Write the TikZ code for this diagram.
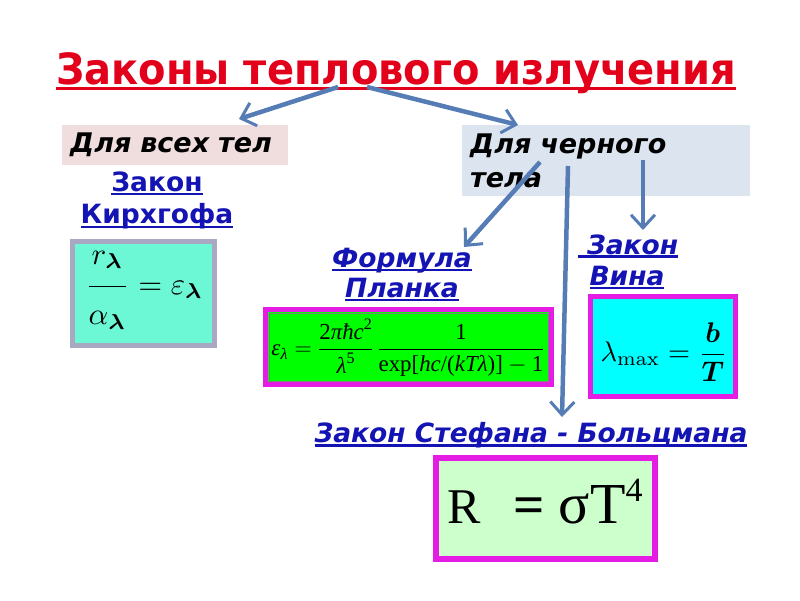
\documentclass[tikz,border=0pt]{standalone}
\usepackage{amsmath}
\usepackage[no-math]{fontspec}
\setmainfont{DejaVu Sans}
\newfontfamily\timesf{Liberation Serif}
\usetikzlibrary{arrows.meta,calc}
\definecolor{titlered}{RGB}{226,0,26}
\definecolor{lblue}{RGB}{20,20,180}
\definecolor{arrowc}{RGB}{86,124,182}
\definecolor{pinkbg}{RGB}{240,222,222}
\definecolor{bluebg}{RGB}{220,228,240}
\definecolor{aqua}{RGB}{108,248,212}
\definecolor{grayb}{RGB}{168,168,194}
\definecolor{mag}{RGB}{228,28,228}
\definecolor{lgreen}{RGB}{204,255,204}
\definecolor{brgreen}{RGB}{0,255,0}
\definecolor{brcyan}{RGB}{0,255,255}
\newcommand\myul[3]{\setbox0=\hbox{#3}\rlap{\rule[-#1]{\wd0}{#2}}\box0}
\newcommand\ti[1]{\text{\timesf\itshape #1}}
\newcommand\tr[1]{\text{\timesf #1}}
\tikzset{
  conn/.style={draw=arrowc, line width=4.5pt, -{Straight Barb[length=13pt,width=24pt,line width=3pt]}},
  blab/.style={anchor=base, inner sep=0pt, text=lblue, font=\fontsize{26.5}{30}\selectfont\bfseries},
  blabi/.style={blab, font=\fontsize{26.5}{30}\selectfont\bfseries\itshape},
  headbox/.style={anchor=north west, inner xsep=8pt, inner ysep=0pt, align=left,
    font=\fontsize{27}{34}\selectfont\bfseries\itshape},
  fbox/.style={anchor=north west, draw=mag, line width=5pt, inner sep=0pt},
}
\begin{document}
\begin{tikzpicture}[x=1pt,y=-1pt]
\useasboundingbox (0,0) rectangle (800,600);
% title
\node[anchor=base west, inner sep=0pt, text=titlered, font=\fontsize{43}{50}\selectfont\bfseries] (title) at (56,84)
  {\scalebox{0.93}[1]{\myul{6pt}{3.5pt}{Законы теплового излучения}}};
% header boxes
\node[headbox, fill=pinkbg, minimum width=226pt, minimum height=40pt, text width=210pt] (all) at (62,125) {Для всех тел};
\node[headbox, fill=bluebg, minimum width=288pt, minimum height=71pt, text width=272pt] (black) at (462,125) {Для черного\\тела};
% Kirchhoff
\node[blab] (kir1) at (157,191) {\myul{4pt}{2.2pt}{Закон}};
\node[blab] (kir2) at (157,223) {\myul{5pt}{2.2pt}{Кирхгофа}};
\node[anchor=north west, draw=grayb, fill=aqua, line width=5pt, minimum width=142pt, minimum height=104pt, inner sep=0pt] (kirbox) at (70,239) {};
\node[inner sep=0pt] (kirf) at (144,290)
  {\resizebox{118pt}{!}{$\dfrac{\raisebox{3pt}{$r_{\boldsymbol\lambda}$}}{\raisebox{-3pt}{$\alpha_{\boldsymbol\lambda}$}}=\varepsilon_{\boldsymbol\lambda}$}};
% Planck
\node[blabi] (pl1) at (402,267) {\myul{4pt}{2.2pt}{Формула}};
\node[blabi] (pl2) at (402,297) {\myul{4pt}{2.2pt}{Планка}};
\node[fbox, fill=brgreen, minimum width=286pt, minimum height=75pt] (plbox) at (263,307) {};
\draw[gray, line width=1pt] ($(plbox.north west)+(6,6)$) rectangle ($(plbox.south east)+(-6,-6)$);
\node[inner sep=0pt, font=\fontsize{24}{28}\selectfont] (plf) at (408,348)
  {\resizebox{273pt}{!}{$\ti{ε}_{\ti{λ}}=\dfrac{\tr{2}\ti{πħc}^{\tr{2}}}{\ti{λ}^{\tr{5}}}\,\dfrac{\tr{1}}{\tr{exp[}\ti{hc}\tr{/(}\ti{kTλ}\tr{)]}-\tr{1}}$}};
% Wien
\node[blabi] (w1) at (628,254) {\myul{3.5pt}{2.2pt}{\ Закон}};
\node[blabi] (w2) at (627,285) {\myul{4pt}{2.2pt}{Вина}};
\node[fbox, fill=brcyan, minimum width=145pt, minimum height=100pt] (wbox) at (588,294) {};
\node[inner sep=0pt] (wf) at (664,352)
  {\resizebox{127pt}{!}{$\lambda_{\mathrm{max}}=\dfrac{\boldsymbol{b}}{\boldsymbol{T}}$}};
% Stefan-Boltzmann
\node[blabi] (sb) at (531,442) {\myul{4.5pt}{2.2pt}{Закон Стефана - Больцмана}};
\node[fbox, line width=6pt, fill=lgreen, minimum width=219pt, minimum height=101pt] (sbbox) at (433,455) {};
\node[inner sep=0pt, anchor=base west, font=\fontsize{50}{56}\selectfont\timesf] (sbf) at (447,523)
  {R\hspace{33pt}{\fontsize{55}{56}\selectfont\bfseries=}\hspace{14pt}{\fontsize{58}{60}\selectfont σT}\raisebox{22pt}{\fontsize{34}{36}\selectfont 4}};
% connectors
\coordinate (t1) at (338,87);
\coordinate (t2) at (367,87);
\coordinate (allin) at (239,119);
\coordinate (blackin) at (518,125);
\coordinate (b1) at (540,162);
\coordinate (b2) at (568,166);
\coordinate (b3) at (643,160);
\coordinate (plin) at (464,247);
\coordinate (sbin) at (562,417);
\coordinate (win) at (643,230);
\draw[conn] (t1) -- (allin);
\draw[conn] (t2) -- (blackin);
\draw[conn] (b1) -- (plin);
\draw[conn] (b2) -- (sbin);
\draw[conn] (b3) -- (win);
\end{tikzpicture}
\end{document}
